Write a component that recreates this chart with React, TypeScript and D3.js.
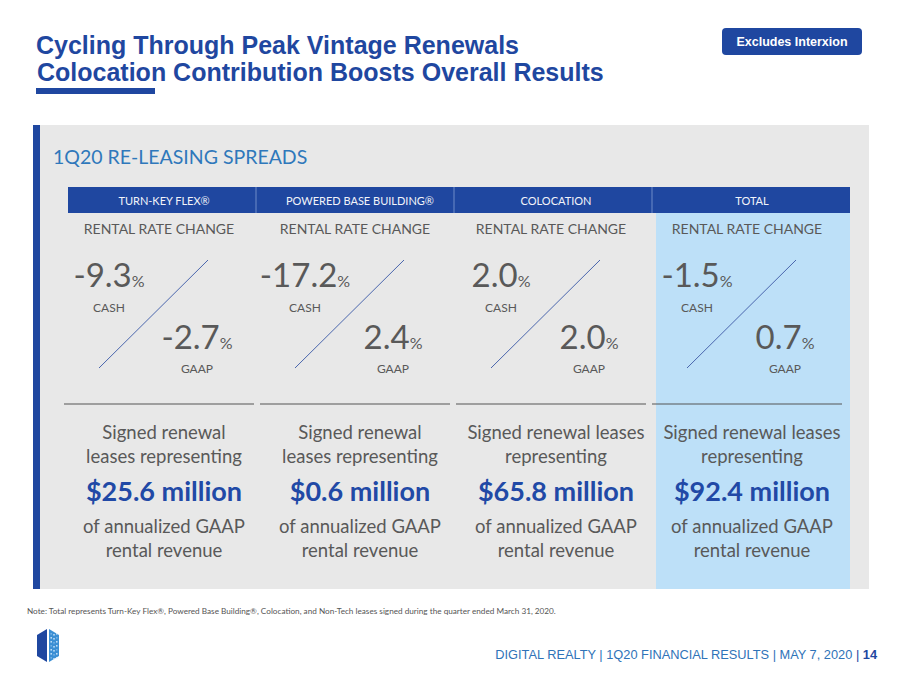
import React from "react";
import * as d3 from "d3";

const categories = ["TURN-KEY FLEX®", "POWERED BASE BUILDING®", "COLOCATION", "TOTAL"];
const cashValues = [-9.3, -17.2, 2.0, -1.5];
const gaapValues = [-2.7, 2.4, 2.0, 0.7];
const revenueValues = [25.6, 0.6, 65.8, 92.4];
const leadLines = [
  ["Signed renewal", "leases representing"],
  ["Signed renewal", "leases representing"],
  ["Signed renewal leases", "representing"],
  ["Signed renewal leases", "representing"],
];
const tailLines = ["of annualized GAAP", "rental revenue"];

const W = 900;
const H = 675;
const BLUE = "#1f47a0";
const GRAY_TXT = "#595959";
const BODY = "Lato, 'Open Sans', sans-serif";
const ARIAL = "'Liberation Sans', Arial, sans-serif";

export default function App() {
  const x = d3.scaleBand<string>().domain(categories).range([66, 850]).paddingInner(0);
  const bw = x.bandwidth();
  const locale = d3.formatLocale({ decimal: ".", thousands: ",", grouping: [3], currency: ["$", ""], minus: "-" });
  const fmt = locale.format(".1f");
  const diagY = d3.scaleLinear().domain([0, 1]).range([368, 260]);

  return (
    <svg width={W} height={H} style={{ position: "absolute", left: 0, top: 0, background: "#fff" }}>
      {/* title */}
      <text x={36} y={54} fontFamily={ARIAL} fontWeight="bold" fontSize={25} fill={BLUE}>
        Cycling Through Peak Vintage Renewals
      </text>
      <text x={37} y={81} fontFamily={ARIAL} fontWeight="bold" fontSize={25} fill={BLUE}>
        Colocation Contribution Boosts Overall Results
      </text>
      <rect x={36} y={88} width={119} height={6} fill={BLUE} />

      {/* badge */}
      <rect x={722} y={28} width={140} height={27} rx={4} fill={BLUE} />
      <text x={792} y={46} textAnchor="middle" fontFamily={ARIAL} fontWeight="bold" fontSize={12.5} fill="#fff">
        Excludes Interxion
      </text>

      {/* panel */}
      <rect x={33} y={125} width={836} height={464} fill="#e8e8e8" />
      <rect x={33} y={125} width={7} height={464} fill={BLUE} />
      <text x={53} y={164} fontFamily={BODY} fontSize={19.5} fill="#2f78bb">
        1Q20 RE-LEASING SPREADS
      </text>

      {/* total highlight */}
      <rect x={(x("TOTAL") as number) + 2} y={213} width={bw - 2} height={376} fill="#bde0f8" />

      {/* header */}
      <rect x={68} y={187} width={782} height={26} fill={BLUE} />
      {categories.map((c, i) => {
        const x0 = x(c) as number;
        return (
          <g key={c}>
            {i > 0 && <line x1={x0 - 8 + i * 2} x2={x0 - 8 + i * 2} y1={187} y2={213} stroke="#6f8cc8" strokeWidth={1} />}
            <text x={x0 + bw / 2} y={205} textAnchor="middle" fontFamily={BODY} fontSize={11} fill="#f2f4fa">
              {c}
            </text>
          </g>
        );
      })}

      {categories.map((c, i) => {
        const x0 = x(c) as number;
        const cx = x0 + bw / 2;
        const cashX = x0 + 43;
        const gaapX = x0 + 131;
        return (
          <g key={"col" + c}>
            <text x={cx - 5} y={234} textAnchor="middle" fontFamily={BODY} fontSize={14} fill={GRAY_TXT}>
              RENTAL RATE CHANGE
            </text>
            <text x={cashX} y={287} textAnchor="middle" fontFamily={BODY} fill={GRAY_TXT}>
              <tspan fontSize={33}>{fmt(cashValues[i])}</tspan>
              <tspan fontSize={16}>%</tspan>
            </text>
            <text x={cashX} y={312} textAnchor="middle" fontFamily={BODY} fontSize={12} fill={GRAY_TXT}>
              CASH
            </text>
            <line x1={x0 + 33} x2={x0 + 142} y1={diagY(0)} y2={diagY(1)} stroke="#4a66ad" strokeWidth={1} />
            <text x={gaapX} y={349} textAnchor="middle" fontFamily={BODY} fill={GRAY_TXT}>
              <tspan fontSize={33}>{fmt(gaapValues[i])}</tspan>
              <tspan fontSize={16}>%</tspan>
            </text>
            <text x={gaapX} y={373} textAnchor="middle" fontFamily={BODY} fontSize={12} fill={GRAY_TXT}>
              GAAP
            </text>
            <line x1={x0 - 2} x2={x0 + bw - 8} y1={404} y2={404} stroke="#555" strokeWidth={1} />
            {leadLines[i].map((t, j) => (
              <text key={j} x={cx} y={439 + j * 24} textAnchor="middle" fontFamily={BODY} fontSize={18.5} fill={GRAY_TXT}>
                {t}
              </text>
            ))}
            <text x={cx} y={501} textAnchor="middle" fontFamily={BODY} fontWeight="bold" fontSize={27} fill="#2149a6">
              {"$" + fmt(revenueValues[i]) + " million"}
            </text>
            {tailLines.map((t, j) => (
              <text key={"t" + j} x={cx} y={533 + j * 24} textAnchor="middle" fontFamily={BODY} fontSize={18.5} fill={GRAY_TXT}>
                {t}
              </text>
            ))}
          </g>
        );
      })}

      {/* note */}
      <text x={27} y={614} fontFamily={BODY} fontSize={8.2} fill="#555">
        Note: Total represents Turn-Key Flex®, Powered Base Building®, Colocation, and Non-Tech leases signed during the quarter ended March 31, 2020.
      </text>

      {/* logo */}
      <polygon points="37,635 47,629 47,662 37,656" fill={BLUE} />
      <polygon points="49,629 59,635 59,656 49,662" fill="#3b8fd4" />
      {[0, 1, 2, 3, 4, 5, 6].map((r) =>
        [0, 1, 2].map((k) => (
          <rect key={r + "-" + k} x={50.5 + k * 2.8} y={633 + r * 4 + (k % 2)} width={1.4} height={1.6} fill="#dbeeff" opacity={(r + k) % 3 === 0 ? 0.4 : 0.9} />
        ))
      )}

      {/* footer */}
      <text x={877} y={659} textAnchor="end" fontFamily={ARIAL} fontSize={12.8} fill="#2f73b8">
        DIGITAL REALTY | 1Q20 FINANCIAL RESULTS | MAY 7, 2020{"  "}
        <tspan fill={BLUE}>|  </tspan>
        <tspan fill={BLUE} fontWeight="bold">14</tspan>
      </text>
    </svg>
  );
}
